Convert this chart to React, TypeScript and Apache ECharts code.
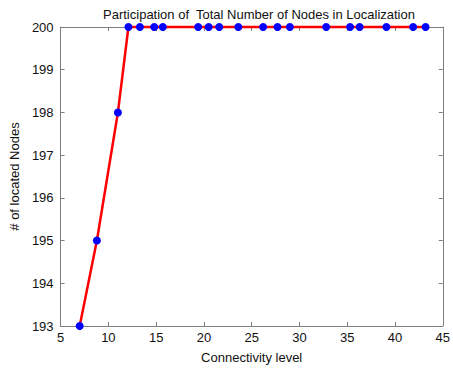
import React, { useEffect, useRef } from "react";
import * as echarts from "echarts";

// Connectivity level (x) and number of located nodes (y)
const connectivity = [
  7.0, 8.8, 11.0, 12.1, 13.3, 14.8, 15.7, 19.4, 20.5, 21.6, 23.6, 26.2, 27.7,
  29.0, 32.8, 35.3, 36.3, 39.1, 41.9, 43.2,
];
const locatedNodes = [
  193, 195, 198, 200, 200, 200, 200, 200, 200, 200, 200, 200, 200, 200, 200,
  200, 200, 200, 200, 200,
];

const xTicks = { min: 5, max: 45, interval: 5 };
const yTicks = { min: 193, max: 200, interval: 1 };

const FONT = "Liberation Sans, Arial, sans-serif";
const BOX = "#7f7f7f";

export default function App() {
  const ref = useRef<HTMLDivElement>(null);

  useEffect(() => {
    if (!ref.current) return;
    const chart = echarts.init(ref.current, undefined, { renderer: "svg" });
    const points = connectivity.map((x, i) => [x, locatedNodes[i]]);

    const tickStyle = { show: true, inside: true, length: 4, lineStyle: { color: BOX, width: 1 } };
    const lineStyle = { show: true, lineStyle: { color: BOX, width: 1 } };

    chart.setOption({
      animation: false,
      backgroundColor: "#ffffff",
      title: {
        text: "Participation of  Total Number of Nodes in Localization",
        left: 254,
        textAlign: "center",
        top: 3,
        textStyle: { fontFamily: FONT, fontSize: 13, fontWeight: "normal", color: "#111" },
      },
      grid: { left: 60, right: 5, top: 27, bottom: 38 },
      xAxis: [
        {
          type: "value",
          ...xTicks,
          name: "Connectivity level",
          nameLocation: "middle",
          nameGap: 25,
          nameTextStyle: { fontFamily: FONT, fontSize: 13, color: "#111" },
          axisLine: lineStyle,
          axisTick: tickStyle,
          splitLine: { show: false },
          axisLabel: { fontFamily: FONT, fontSize: 13, color: "#111", margin: 5 },
        },
        {
          type: "value",
          ...xTicks,
          position: "top",
          axisLine: lineStyle,
          axisTick: tickStyle,
          splitLine: { show: false },
          axisLabel: { show: false },
        },
      ],
      yAxis: [
        {
          type: "value",
          ...yTicks,
          name: "# of located Nodes",
          nameLocation: "middle",
          nameGap: 34,
          nameTextStyle: { fontFamily: FONT, fontSize: 13, color: "#111" },
          axisLine: lineStyle,
          axisTick: tickStyle,
          splitLine: { show: false },
          axisLabel: { fontFamily: FONT, fontSize: 13, color: "#111", margin: 7 },
        },
        {
          type: "value",
          ...yTicks,
          position: "right",
          axisLine: lineStyle,
          axisTick: tickStyle,
          splitLine: { show: false },
          axisLabel: { show: false },
        },
      ],
      series: [
        {
          type: "line",
          data: points,
          xAxisIndex: 0,
          yAxisIndex: 0,
          symbol: "circle",
          symbolSize: 8,
          showAllSymbol: true,
          clip: false,
          lineStyle: { color: "#ff0000", width: 2.5 },
          itemStyle: { color: "#0000ff", borderWidth: 0 },
          z: 3,
        },
      ],
    });

    return () => chart.dispose();
  }, []);

  return <div ref={ref} style={{ width: 453, height: 369, position: "absolute", left: 0, top: 0 }} />;
}
